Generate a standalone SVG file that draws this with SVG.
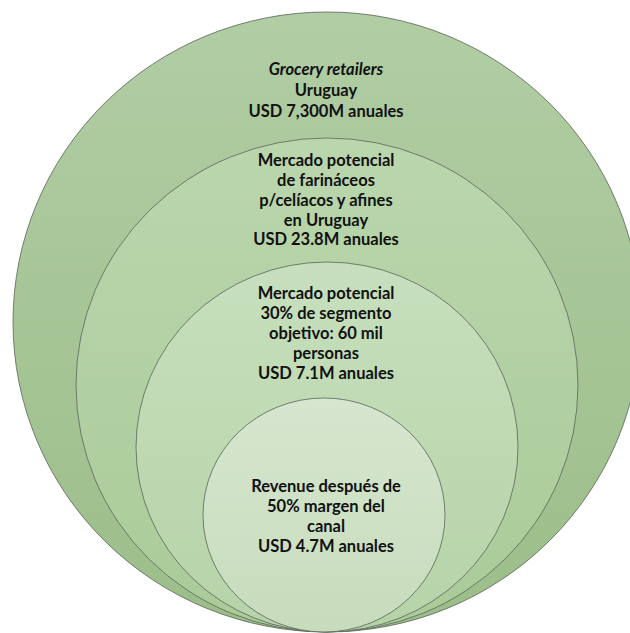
<svg xmlns="http://www.w3.org/2000/svg" width="630" height="633" viewBox="0 0 630 633">
  <style>
    .ring { stroke: #5b6358; stroke-width: 0.8; }
    .lbl { font-family: Lato, "Liberation Sans", sans-serif; font-weight: bold; font-size: 16.5px; fill: #111; text-anchor: middle; dominant-baseline: central; }
    .it { font-style: italic; }
  </style>
  <defs>
    <linearGradient id="g1" x1="0" y1="0" x2="0" y2="1">
      <stop offset="0" stop-color="#b1cda4"/>
      <stop offset="1" stop-color="#9bbe89"/>
    </linearGradient>
    <linearGradient id="g2" x1="0" y1="0" x2="0" y2="1">
      <stop offset="0" stop-color="#bad6ad"/>
      <stop offset="1" stop-color="#a9cb98"/>
    </linearGradient>
    <linearGradient id="g3" x1="0" y1="0" x2="0" y2="1">
      <stop offset="0" stop-color="#c7dfbd"/>
      <stop offset="1" stop-color="#b6d3a8"/>
    </linearGradient>
    <linearGradient id="g4" x1="0" y1="0" x2="0" y2="1">
      <stop offset="0" stop-color="#d6e6cf"/>
      <stop offset="1" stop-color="#c6dcbb"/>
    </linearGradient>
  </defs>
  <rect width="630" height="633" fill="#ffffff"/>

  <!-- outer market: grocery retail -->
  <g id="grocery">
    <ellipse class="ring" cx="327" cy="322" rx="314" ry="310" fill="url(#g1)"/>
    <text class="lbl it" x="326" y="69">Grocery retailers</text>
    <text class="lbl" x="326" y="90">Uruguay</text>
    <text class="lbl" x="326" y="111">USD 7,300M anuales</text>
  </g>

  <!-- potential market for gluten-free flour goods -->
  <g id="potencial">
    <ellipse class="ring" cx="327" cy="385" rx="251" ry="247" fill="url(#g2)"/>
    <text class="lbl" x="326" y="160">Mercado potencial</text>
    <text class="lbl" x="326" y="180">de farináceos</text>
    <text class="lbl" x="326" y="200">p/celíacos y afines</text>
    <text class="lbl" x="326" y="220">en Uruguay</text>
    <text class="lbl" x="326" y="239">USD 23.8M anuales</text>
  </g>

  <!-- target segment -->
  <g id="segmento">
    <ellipse class="ring" cx="327" cy="447" rx="191" ry="185" fill="url(#g3)"/>
    <text class="lbl" x="326" y="293">Mercado potencial</text>
    <text class="lbl" x="326" y="313">30% de segmento</text>
    <text class="lbl" x="326" y="333">objetivo: 60 mil</text>
    <text class="lbl" x="326" y="353">personas</text>
    <text class="lbl" x="326" y="373">USD 7.1M anuales</text>
  </g>

  <!-- revenue after channel margin -->
  <g id="revenue">
    <ellipse class="ring" cx="324" cy="515" rx="121" ry="117" fill="url(#g4)"/>
    <text class="lbl" x="326" y="486">Revenue después de</text>
    <text class="lbl" x="326" y="506">50% margen del</text>
    <text class="lbl" x="326" y="526">canal</text>
    <text class="lbl" x="326" y="546">USD 4.7M anuales</text>
  </g>
</svg>
